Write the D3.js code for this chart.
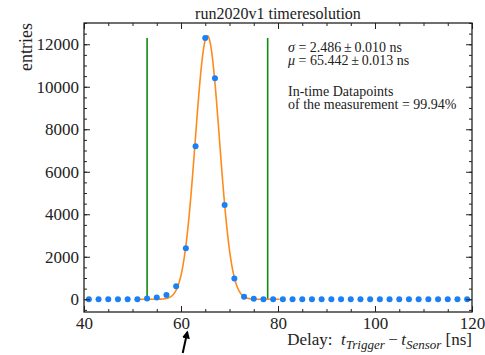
<!DOCTYPE html>
<html>
<head>
<meta charset="utf-8">
<script src="https://cdn.jsdelivr.net/npm/d3@7"></script>
<style>
  body { margin: 0; background: #fff; }
  svg { font-family: 'Liberation Serif', 'DejaVu Serif', serif; }
</style>
</head>
<body>
<div id="chart"></div>
<script>
// Measured delay bins [ns] and entries per bin
const delays = [41, 43, 45, 47, 49, 51, 53, 55, 57, 59, 61, 63, 65, 67, 69, 71, 73, 75, 77, 79,
                81, 83, 85, 87, 89, 91, 93, 95, 97, 99, 101, 103, 105, 107, 109, 111, 113, 115, 117, 119];
const entries = [0, 0, 0, 0, 0, 5, 30, 80, 200, 610, 2400, 7200, 12300, 10400, 4430, 980, 120, 20, 5, 0,
                 0, 0, 0, 0, 0, 0, 0, 0, 0, 0, 0, 0, 0, 0, 0, 0, 0, 0, 0, 0];

// Gaussian fit parameters (from the legend), amplitude
const fitSigma = 2.486;
const fitMu = 65.442;
const fitAmp = 12400;

// In-time window (green lines)
const windowEdges = [53.01, 77.87];
const windowTop = 12300;

const xTicks = [40, 60, 80, 100, 120];
const yTicks = [0, 2000, 4000, 6000, 8000, 10000, 12000];

const W = 485, H = 355;
const m = { left: 84, right: 13, top: 23, bottom: 43 };
const pw = W - m.left - m.right, ph = H - m.top - m.bottom;

const svg = d3.select('#chart').append('svg')
  .attr('width', W).attr('height', H);

const x = d3.scaleLinear().domain([40, 120]).range([m.left, m.left + pw]);
const y = d3.scaleLinear().domain([-600, 13000]).range([m.top + ph, m.top]);

const plot = svg.append('g');

// Green in-time window lines
plot.selectAll('.win')
  .data(windowEdges)
  .enter().append('line')
  .attr('x1', d => x(d)).attr('x2', d => x(d))
  .attr('y1', y(0)).attr('y2', y(windowTop))
  .attr('stroke', '#138a13').attr('stroke-width', 1.6);

// Fit curve
const fitX = d3.range(fitMu - 6 * fitSigma, fitMu + 6 * fitSigma, 0.05);
const gauss = t => fitAmp * Math.exp(-((t - fitMu) ** 2) / (2 * fitSigma * fitSigma));
plot.append('path')
  .datum(fitX)
  .attr('d', d3.line().x(d => x(d)).y(d => y(gauss(d))))
  .attr('fill', 'none')
  .attr('stroke', '#ff8a1c')
  .attr('stroke-width', 1.6);

// Data points
plot.selectAll('.pt')
  .data(delays.map((d, i) => ({ d, v: entries[i] })))
  .enter().append('circle')
  .attr('cx', p => x(p.d)).attr('cy', p => y(p.v))
  .attr('r', 3)
  .attr('fill', '#1a80f5');

// Axes with inward ticks on all four sides
const xMinor = d3.range(40, 121, 5);
const yMinor = d3.range(-500, 13001, 500);
const noLabel = () => '';

function addAxis(gen, tx, ty) {
  const g = svg.append('g').attr('transform', `translate(${tx},${ty})`).call(gen);
  g.select('.domain').remove();
  g.selectAll('line').attr('stroke', '#222').attr('stroke-width', 1);
  g.selectAll('text').attr('font-family', 'Liberation Serif, serif').attr('font-size', 17).attr('fill', '#222');
  return g;
}

const bottomY = m.top + ph;
addAxis(d3.axisBottom(x).tickValues(xMinor).tickSize(-3).tickFormat(noLabel), 0, bottomY);
addAxis(d3.axisBottom(x).tickValues(xTicks).tickSize(-6).tickPadding(5).tickFormat(d3.format('d')), 0, bottomY);
addAxis(d3.axisTop(x).tickValues(xMinor).tickSize(-3).tickFormat(noLabel), 0, m.top);
addAxis(d3.axisTop(x).tickValues(xTicks).tickSize(-6).tickFormat(noLabel), 0, m.top);

addAxis(d3.axisLeft(y).tickValues(yMinor).tickSize(-3).tickFormat(noLabel), m.left, 0);
addAxis(d3.axisLeft(y).tickValues(yTicks).tickSize(-6).tickPadding(5).tickFormat(d3.format('d')), m.left, 0);
addAxis(d3.axisRight(y).tickValues(yMinor).tickSize(-3).tickFormat(noLabel), m.left + pw, 0);
addAxis(d3.axisRight(y).tickValues(yTicks).tickSize(-6).tickFormat(noLabel), m.left + pw, 0);

// Frame
svg.append('rect')
  .attr('x', m.left).attr('y', m.top).attr('width', pw).attr('height', ph)
  .attr('fill', 'none').attr('stroke', '#222').attr('stroke-width', 1.3);

// Title
svg.append('text')
  .attr('x', m.left + pw / 2).attr('y', 19)
  .attr('text-anchor', 'middle').attr('font-size', 16).attr('fill', '#222')
  .text('run2020v1 timeresolution');

// Y label
svg.append('text')
  .attr('transform', `translate(32,${m.top}) rotate(-90)`)
  .attr('text-anchor', 'end').attr('font-size', 18).attr('fill', '#222')
  .text('entries');

// X label
const xl = svg.append('text')
  .attr('x', m.left + pw).attr('y', 345)
  .attr('text-anchor', 'end').attr('font-size', 17).attr('fill', '#222')
  .style('white-space', 'pre');
xl.append('tspan').text('Delay:  ');
xl.append('tspan').attr('font-style', 'italic').text('t');
xl.append('tspan').attr('font-style', 'italic').attr('font-size', 13).attr('dy', 4).text('Trigger');
xl.append('tspan').attr('dy', -4).text('\u2009\u2212\u2009');
xl.append('tspan').attr('font-style', 'italic').text('t');
xl.append('tspan').attr('font-style', 'italic').attr('font-size', 13).attr('dy', 4).text('Sensor');
xl.append('tspan').attr('dy', -4).text(' [ns]');

// Fit result text (one text block, one tspan per line)
const tx = 288;
const info = svg.append('text').attr('font-size', 14).attr('fill', '#222')
  .attr('x', tx).attr('y', 52);
info.append('tspan').attr('x', tx).attr('y', 52).attr('font-style', 'italic').text('\u03c3');
info.append('tspan').text(' = 2.486\u2009\u00b1\u20090.010 ns');
info.append('tspan').attr('x', tx).attr('y', 64.5).attr('font-style', 'italic').text('\u03bc');
info.append('tspan').text(' = 65.442\u2009\u00b1\u20090.013 ns');
info.append('tspan').attr('x', tx).attr('y', 96).text('In-time Datapoints');
info.append('tspan').attr('x', tx).attr('y', 108.5).text('of the measurement = 99.94%');

// Annotation arrow under the x axis
const arrowTail = [60.35, 353];
const arrowTip = [61.3, 332];
svg.append('defs').append('marker')
  .attr('id', 'ah').attr('viewBox', '0 0 10 10').attr('refX', 8).attr('refY', 5)
  .attr('markerWidth', 4).attr('markerHeight', 5).attr('orient', 'auto')
  .append('path').attr('d', 'M0,0 L10,5 L0,10 Z').attr('fill', '#000');
svg.append('line')
  .attr('x1', x(arrowTail[0])).attr('y1', arrowTail[1])
  .attr('x2', x(arrowTip[0])).attr('y2', arrowTip[1])
  .attr('stroke', '#000').attr('stroke-width', 2)
  .attr('marker-end', 'url(#ah)');
</script>
</body>
</html>
